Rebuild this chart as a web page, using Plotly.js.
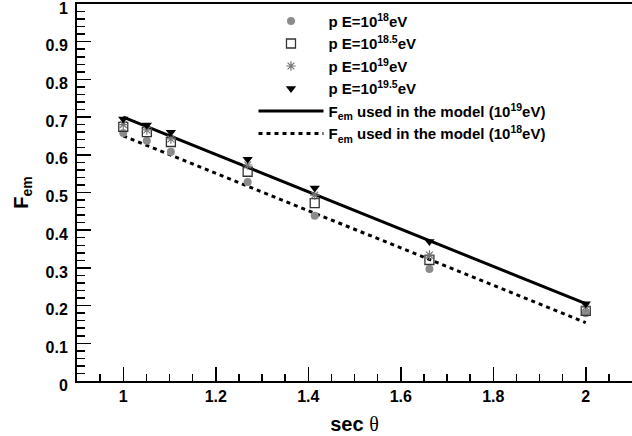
<!DOCTYPE html>
<html>
<head>
<meta charset="utf-8">
<script src="https://cdn.plot.ly/plotly-3.0.1.min.js"></script>
<style>html,body{margin:0;padding:0;background:#fff;overflow:hidden;}#chart{width:632px;height:436px;}</style>
</head>
<body>
<div id="chart"></div>
<script>
// sec(theta) values
const secTheta = [1.0, 1.051, 1.103, 1.269, 1.414, 1.662, 2.0];
// F_em per primary energy
const fem18   = [0.658, 0.637, 0.608, 0.528, 0.438, 0.297, 0.180];
const fem185  = [0.674, 0.660, 0.634, 0.555, 0.472, 0.321, 0.186];
const fem19   = [0.680, 0.666, 0.642, 0.573, 0.493, 0.334, 0.196];
const fem195  = [0.695, 0.679, 0.660, 0.588, 0.512, 0.370, 0.205];
// model lines (end points)
const modelX    = [1.0, 2.0];
const model19   = [0.700, 0.205];
const model18   = [0.650, 0.155];

const names = [
  'p E=10<sup>18</sup>eV',
  'p E=10<sup>18.5</sup>eV',
  'p E=10<sup>19</sup>eV',
  'p E=10<sup>19.5</sup>eV',
  'F<sub>em</sub> used in the model (10<sup>19</sup>eV)',
  'F<sub>em</sub> used in the model (10<sup>18</sup>eV)'
];

const traces = [
  {x: modelX, y: model19, mode: 'lines', name: names[4], line: {color: '#000', width: 3}},
  {x: modelX, y: model18, mode: 'lines', name: names[5], line: {color: '#000', width: 3, dash: '4px,4px'}},
  {x: secTheta, y: fem18, mode: 'markers', name: names[0], marker: {symbol: 'circle', size: 8, color: '#8c8c8c'}},
  {x: secTheta, y: fem185, mode: 'markers', name: names[1], marker: {symbol: 'square-open', size: 9, color: '#333', line: {width: 1.3}}},
  {x: secTheta, y: fem19, mode: 'markers', name: names[2], marker: {symbol: 'asterisk-open', size: 8, color: '#777', line: {width: 1.2, color: '#777'}}},
  {x: secTheta, y: fem195, mode: 'markers', name: names[3], marker: {symbol: 'triangle-down', size: 9, color: '#000'}}
];

const legendOrder = [2, 3, 4, 5, 0, 1];
legendOrder.forEach((ti, k) => { traces[ti].legendrank = k + 1; });

const layout = {
  width: 632, height: 436,
  margin: {l: 77, r: 0, t: 4, b: 55},
  paper_bgcolor: '#fff', plot_bgcolor: '#fff',
  font: {family: 'Liberation Sans, Arial, sans-serif', color: '#000', weight: 'bold', size: 16},
  showlegend: true,
  legend: {
    x: 0.318, y: 0.998, xanchor: 'left', yanchor: 'top',
    bgcolor: 'rgba(0,0,0,0)', borderwidth: 0,
    font: {size: 15, weight: 'bold'},
    itemwidth: 65, tracegroupgap: 0
  },
  xaxis: {
    range: [0.9, 2.1], tick0: 0, dtick: 0.2,
    showgrid: false, zeroline: false,
    showline: true, linecolor: '#000', linewidth: 2, mirror: true,
    ticks: 'inside', ticklen: 14, tickwidth: 1.5, tickcolor: '#000',
    minor: {dtick: 0.05, ticks: 'inside', ticklen: 7, tickwidth: 1.5, tickcolor: '#000', showgrid: false},
    tickfont: {size: 16, weight: 'bold'},
    title: {text: 'sec <span style="font-family:\'Liberation Serif\';font-weight:normal">θ</span>', font: {size: 20, weight: 'bold'}, standoff: 13}
  },
  yaxis: {
    range: [0, 1], tick0: 0, dtick: 0.1,
    showgrid: false, zeroline: false,
    showline: true, linecolor: '#000', linewidth: 2, mirror: false,
    ticks: 'inside', ticklen: 14, tickwidth: 1.5, tickcolor: '#000',
    minor: {dtick: 0.02, ticks: 'inside', ticklen: 8, tickwidth: 1.5, tickcolor: '#000', showgrid: false},
    tickfont: {size: 16, weight: 'bold'},
    ticklabelstandoff: 4,
    ticklabelshift: 4,
    ticklabeloverflow: 'allow',
    title: {text: 'F<sub>em</sub>', font: {size: 20, weight: 'bold'}, standoff: 12}
  }
};

Plotly.newPlot('chart', traces, layout, {displayModeBar: false, staticPlot: true});
</script>
</body>
</html>
